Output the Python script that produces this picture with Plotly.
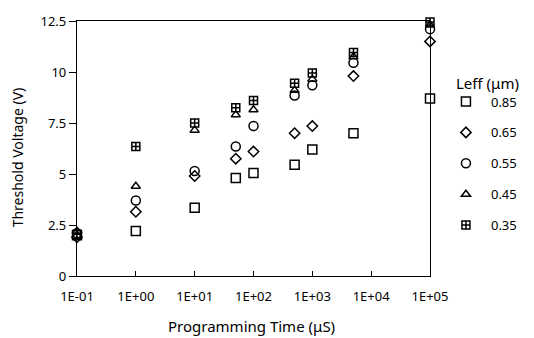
import plotly.graph_objects as go

times = [0.1, 1, 10, 50, 100, 500, 1000, 5000, 100000]
v085 = [2.0, 2.2, 3.35, 4.8, 5.05, 5.45, 6.2, 7.0, 8.7]
v065 = [1.9, 3.15, 4.9, 5.75, 6.1, 7.0, 7.35, 9.8, 11.5]
v055 = [2.1, 3.7, 5.15, 6.35, 7.35, 8.85, 9.35, 10.45, 12.1]
v045 = [2.2, 4.4, 7.15, 7.9, 8.15, 9.1, 9.65, 10.75, 12.3]
v035 = [2.05, 6.35, 7.5, 8.25, 8.6, 9.45, 9.95, 10.95, 12.45]

series_names = ["0.85", "0.65", "0.55", "0.45", "0.35"]
series_vals = [v085, v065, v055, v045, v035]
symbols = ["square-open", "diamond-open", "circle-open", "triangle-up-open", "square-cross-open"]
sizes = [9, 8, 9, 8, 8]

x_tickvals = [0.1, 1, 10, 100, 1000, 10000, 100000]
x_ticktext = ["1E-01", "1E+00", "1E+01", "1E+02", "1E+03", "1E+04", "1E+05"]
y_tickvals = [0, 2.5, 5, 7.5, 10, 12.5]
y_ticktext = ["0", "2.5", "5", "7.5", "10", "12.5"]

FONT = "Noto Sans"

fig = go.Figure()
for i, (name, vals, sym, sz) in enumerate(zip(series_names, series_vals, symbols, sizes)):
    fig.add_trace(go.Scatter(
        x=times, y=vals, mode="markers", name=name,
        legendgroup=f"g{i}",
        marker=dict(symbol=sym, size=sz, color="black", line=dict(width=1.5, color="black")),
        cliponaxis=False,
    ))

fig.update_layout(
    width=534, height=338,
    margin=dict(l=77, r=102, t=15, b=62),
    paper_bgcolor="white", plot_bgcolor="white",
    font=dict(family=FONT, size=13, color="black"),
    showlegend=True,
    legend=dict(
        x=1.031, xanchor="left", y=0.743, yanchor="top",
        font=dict(family=FONT, size=13, color="black"),
        tracegroupgap=11, itemwidth=40, bgcolor="rgba(0,0,0,0)", borderwidth=0,
    ),
    annotations=[
        dict(text="Leff (μm)", xref="paper", yref="paper",
             x=1.068, y=0.755, xanchor="left", yanchor="middle",
             showarrow=False, font=dict(family=FONT, size=15, color="black")),
        dict(text="Threshold Voltage (V)", xref="paper", yref="paper",
             x=-0.166, y=0.467, xanchor="center", yanchor="middle", textangle=-90,
             showarrow=False, font=dict(family=FONT, size=14, color="black")),
        dict(text="Programming Time (μS)", xref="paper", yref="paper",
             x=0.493, y=-0.195, xanchor="center", yanchor="middle",
             showarrow=False, font=dict(family=FONT, size=15, color="black")),
    ],
)

fig.update_xaxes(
    type="log", range=[-1, 5],
    tickvals=x_tickvals, ticktext=x_ticktext,
    ticks="inside", ticklen=5, tickwidth=1, tickcolor="black",
    ticklabelstandoff=8,
    showline=True, linecolor="black", linewidth=1.3, mirror=True,
    showgrid=False, zeroline=False,
    tickfont=dict(family=FONT, size=13),
)
fig.update_yaxes(
    range=[0, 12.5],
    tickvals=y_tickvals, ticktext=y_ticktext,
    ticks="outside", ticklen=7, tickwidth=1, tickcolor="black",
    showline=True, linecolor="black", linewidth=1.3, mirror=True,
    showgrid=False, zeroline=False,
    tickfont=dict(family=FONT, size=13),
)

fig.write_html("out.html")
